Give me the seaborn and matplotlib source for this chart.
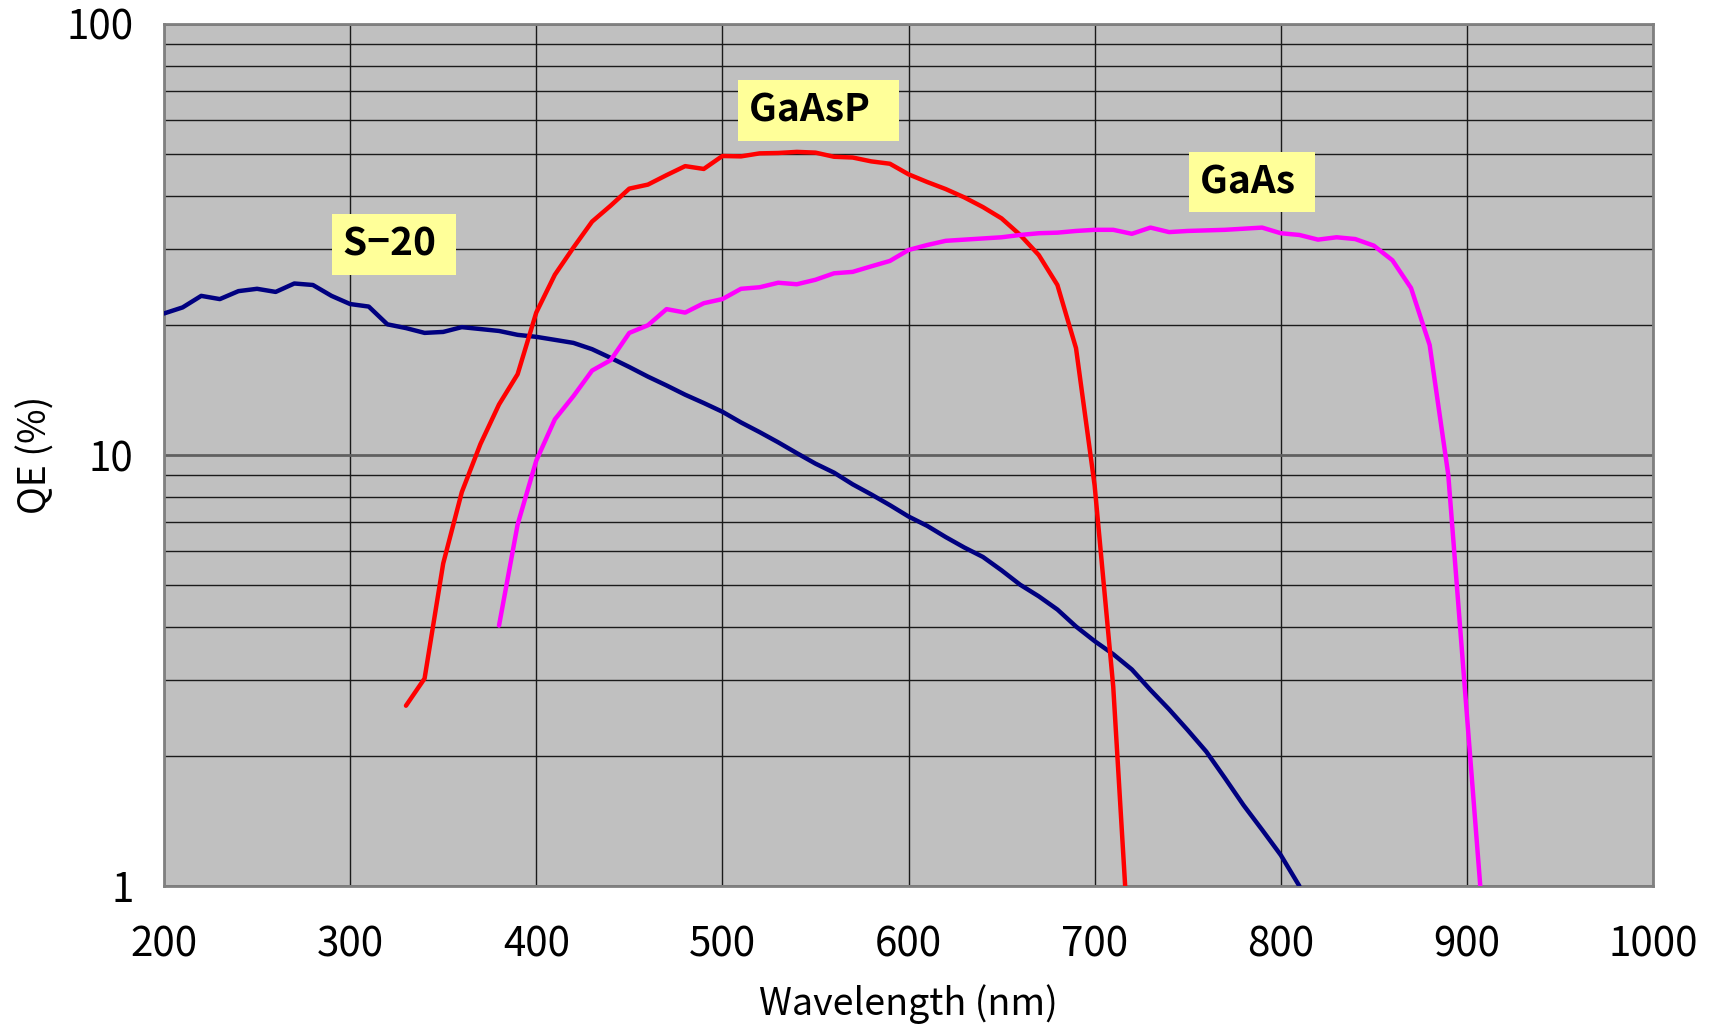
import numpy as np
import pandas as pd
import matplotlib
matplotlib.use("Agg")
import matplotlib.pyplot as plt
import matplotlib.ticker as mticker
import seaborn as sns

# ---- data ----
s20_wl = list(range(200, 820, 10))
s20_qe = [21.3, 22.0, 23.4, 23.0, 24.0, 24.3, 23.9, 25.0, 24.8, 23.4,
          22.4, 22.1, 20.1, 19.7, 19.2, 19.3, 19.8, 19.6, 19.4, 19.0,
          18.8, 18.5, 18.2, 17.6, 16.8, 16.0, 15.2, 14.5, 13.8, 13.2,
          12.6, 11.9, 11.3, 10.7, 10.1, 9.55, 9.1, 8.55, 8.1, 7.65,
          7.2, 6.85, 6.45, 6.1, 5.8, 5.4, 5.0, 4.7, 4.38, 4.0,
          3.7, 3.45, 3.18, 2.85, 2.57, 2.3, 2.05, 1.78, 1.54, 1.35,
          1.18, 1.0]

gaasp_wl = list(range(330, 730, 10))
gaasp_qe = [2.62, 3.03, 5.6, 8.2, 10.6, 13.1, 15.4, 21.4, 26.2, 30.3,
            34.8, 37.9, 41.5, 42.4, 44.6, 46.8, 46.1, 49.4, 49.3, 50.1,
            50.2, 50.5, 50.3, 49.2, 49.0, 48.0, 47.4, 44.8, 43.0, 41.4,
            39.6, 37.6, 35.4, 32.4, 29.1, 24.8, 17.7, 8.5, 2.9, 0.55]

gaas_wl = list(range(380, 920, 10))
gaas_qe = [4.02, 6.9, 9.7, 12.1, 13.7, 15.7, 16.6, 19.2, 20.0, 21.8,
           21.4, 22.5, 23.0, 24.3, 24.5, 25.1, 24.9, 25.5, 26.4, 26.6,
           27.4, 28.2, 29.9, 30.7, 31.4, 31.6, 31.8, 32.0, 32.4, 32.7,
           32.8, 33.1, 33.3, 33.3, 32.6, 33.7, 32.9, 33.1, 33.2, 33.3,
           33.5, 33.7, 32.7, 32.4, 31.6, 32.0, 31.7, 30.6, 28.3, 24.4,
           18.0, 9.0, 2.5, 0.70]

series_names = ["S\u221220", "GaAsP", "GaAs"]
series_colors = ["#000080", "#FF0000", "#FF00FF"]
x_ticks = [200, 300, 400, 500, 600, 700, 800, 900, 1000]
y_ticks = [1, 10, 100]
# label anchor positions (wavelength, QE)
label_pos = [(296.2, 30.8), (514.3, 63.0), (756.7, 43.0)]
label_pad_text = [" ", "  ", " "]

# ---- style ----
sns.set_theme(style="white")
plt.rcParams["font.family"] = ["Noto Sans CJK JP", "DejaVu Sans"]

fig = plt.figure(figsize=(17.16, 10.24), dpi=100)
W, H = 1716, 1024
ax = fig.add_axes([164 / W, 1 - 886 / H, (1653 - 164) / W, (886 - 24) / H])
ax.set_facecolor("#C0C0C0")

frames = [
    pd.DataFrame({"wl": s20_wl, "qe": s20_qe}),
    pd.DataFrame({"wl": gaasp_wl, "qe": gaasp_qe}),
    pd.DataFrame({"wl": gaas_wl, "qe": gaas_qe}),
]
for df, col in zip(frames, series_colors):
    sns.lineplot(data=df, x="wl", y="qe", color=col, linewidth=3.2,
                 ax=ax, sort=False, zorder=3)

ax.set_yscale("log")
ax.set_xlim(200, 1000)
ax.set_ylim(1, 100)
ax.set_xticks(x_ticks)
ax.set_xticklabels([str(t) for t in x_ticks])
ax.yaxis.set_major_locator(mticker.FixedLocator(y_ticks))
ax.yaxis.set_major_formatter(mticker.FixedFormatter([str(t) for t in y_ticks]))
ax.yaxis.set_minor_locator(mticker.LogLocator(base=10, subs=np.arange(2, 10)))
ax.yaxis.set_minor_formatter(mticker.NullFormatter())

ax.grid(False)
ax.xaxis.grid(True, which="major", color="#1a1a1a", linewidth=1.0, zorder=1)
ax.yaxis.grid(True, which="minor", color="#1a1a1a", linewidth=1.0, zorder=1)
ax.yaxis.grid(True, which="major", color="#606060", linewidth=2.0, zorder=1)
ax.set_axisbelow(True)

for sp in ax.spines.values():
    sp.set_visible(True)
    sp.set_color("#808080")
    sp.set_linewidth(2.0)

ax.tick_params(axis="x", which="major", direction="in", length=5, width=1.5,
               color="#404040", labelsize=29, pad=28, labelcolor="black")
ax.tick_params(axis="y", which="major", direction="in", length=9, width=2,
               color="#404040", labelsize=29, pad=22, labelcolor="black")
ax.tick_params(axis="y", which="minor", length=0)

ax.set_xlabel("Wavelength (nm)", fontsize=27, labelpad=13, color="black")
ax.set_ylabel("QE (%)", fontsize=27, labelpad=8, color="black")

for name, pad_txt, (lx, ly) in zip(series_names, label_pad_text, label_pos):
    ax.text(lx, ly, name + pad_txt, fontsize=28, fontweight="bold", color="black",
            ha="left", va="center", zorder=5,
            bbox=dict(boxstyle="square,pad=0.28", fc="#FFFF99", ec="none"))

fig.savefig("out.png", dpi=100, facecolor="white")
